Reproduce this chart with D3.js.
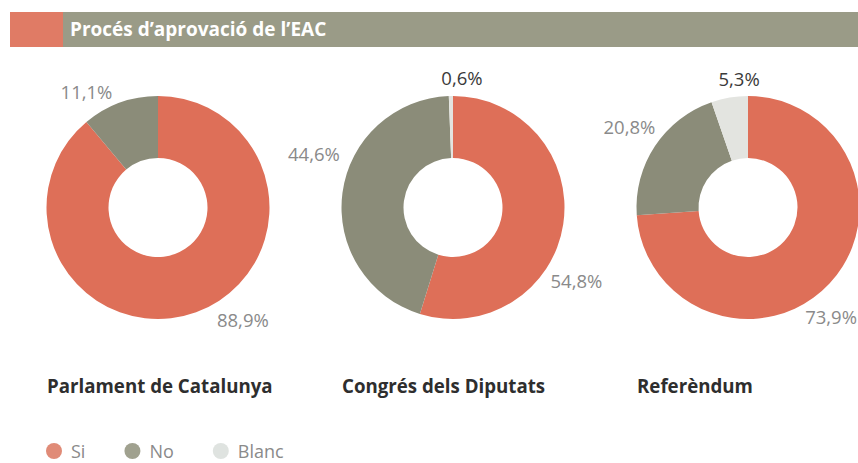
<!DOCTYPE html>
<html>
<head>
<meta charset="utf-8">
<script src="https://cdn.jsdelivr.net/npm/d3@7"></script>
<style>
  body { margin: 0; background: #ffffff; }
  svg { display: block; }
</style>
</head>
<body>
<div id="chart"></div>
<script>

// Chart data
var title = 'Procés d’aprovació de l’EAC';
var charts = ['Parlament de Catalunya', 'Congrés dels Diputats', 'Referèndum'];
var categories = ['Si', 'No', 'Blanc'];
var siValues = [88.9, 54.8, 73.9];
var noValues = [11.1, 44.6, 20.8];
var blancValues = [0, 0.6, 5.3];

// Label placement around each donut: [angle in degrees, distance from center]
var labelPlacement = [
  { Si: [143, 141], No: [328, 135], Blanc: null },
  { Si: [121, 144], No: [291, 149], Blanc: [4, 129] },
  { Si: [143, 138], No: [304, 143], Blanc: [356, 128] }
];

var width = 858,
    height = 463,
    outerR = 111.5,
    innerR = 49.5,
    centerY = 207.5;

var colors = d3.scaleOrdinal()
    .domain(categories)
    .range(['#de6f58', '#8b8c79', '#e3e4e0']);

var legendColors = d3.scaleOrdinal()
    .domain(categories)
    .range(['#e08b77', '#a0a18f', '#dfe3e0']);

var labelColors = d3.scaleOrdinal()
    .domain(categories)
    .range(['#8a8a8a', '#8a8a8a', '#3a3a3a']);

var x = d3.scalePoint()
    .domain(charts)
    .range([158, 748]);

var svg = d3.select('#chart')
            .append('svg')
            .attr('width', width)
            .attr('height', height);

// Title bar
svg.append('rect')
   .attr('x', 10).attr('y', 12)
   .attr('width', 53).attr('height', 35)
   .attr('fill', '#e07b65');
svg.append('rect')
   .attr('x', 63).attr('y', 12)
   .attr('width', width - 63).attr('height', 35)
   .attr('fill', '#9a9b87');
svg.append('text')
   .attr('x', 70).attr('y', 36)
   .attr('fill', '#ffffff')
   .style('font-family', 'Open Sans, sans-serif')
   .style('font-weight', 'bold')
   .style('font-size', '19px')
   .text(title);

var pie = d3.pie()
    .sort(null)
    .value(function(d) { return d.value; });

var arc = d3.arc()
    .innerRadius(innerR)
    .outerRadius(outerR);

// Draw donuts
charts.forEach(function(name, i) {
  var rows = [
    { key: 'Si', value: siValues[i] },
    { key: 'No', value: noValues[i] },
    { key: 'Blanc', value: blancValues[i] }
  ];

  var g = svg.append('g')
             .attr('transform', 'translate(' + x(name) + ',' + centerY + ')');

  g.selectAll('path')
   .data(pie(rows))
   .enter()
   .append('path')
   .attr('d', arc)
   .attr('fill', function(d) { return colors(d.data.key); });

  // Percentage labels
  g.selectAll('text.pct')
   .data(rows.filter(function(d) { return d.value > 0; }))
   .enter()
   .append('text')
   .attr('class', 'pct')
   .attr('transform', function(d) {
     var p = labelPlacement[i][d.key];
     var pt = d3.pointRadial(p[0] * Math.PI / 180, p[1]);
     return 'translate(' + pt[0] + ',' + pt[1] + ')';
   })
   .attr('dy', '0.35em')
   .attr('text-anchor', 'middle')
   .attr('fill', function(d) { return labelColors(d.key); })
   .style('font-family', 'Open Sans, sans-serif')
   .style('font-size', '18.5px')
   .text(function(d) { return d3.format('.1f')(d.value).replace('.', ',') + '%'; });

  // Chart name
  svg.append('text')
     .attr('x', x(name) - outerR + 0.5)
     .attr('y', 393)
     .attr('fill', '#2e2e2e')
     .style('font-family', 'Open Sans, sans-serif')
     .style('font-weight', 'bold')
     .style('font-size', '18.7px')
     .text(name);
});

// Legend
var lx = 54;
categories.forEach(function(c) {
  svg.append('circle')
     .attr('cx', lx).attr('cy', 451)
     .attr('r', 8)
     .attr('fill', legendColors(c));
  var t = svg.append('text')
     .attr('x', lx + 17).attr('y', 458)
     .attr('fill', '#8a8a8a')
     .style('font-family', 'Open Sans, sans-serif')
     .style('font-size', '18px')
     .text(c);
  lx = lx + 17 + t.node().getComputedTextLength() + 47;
});

</script>
</body>
</html>
